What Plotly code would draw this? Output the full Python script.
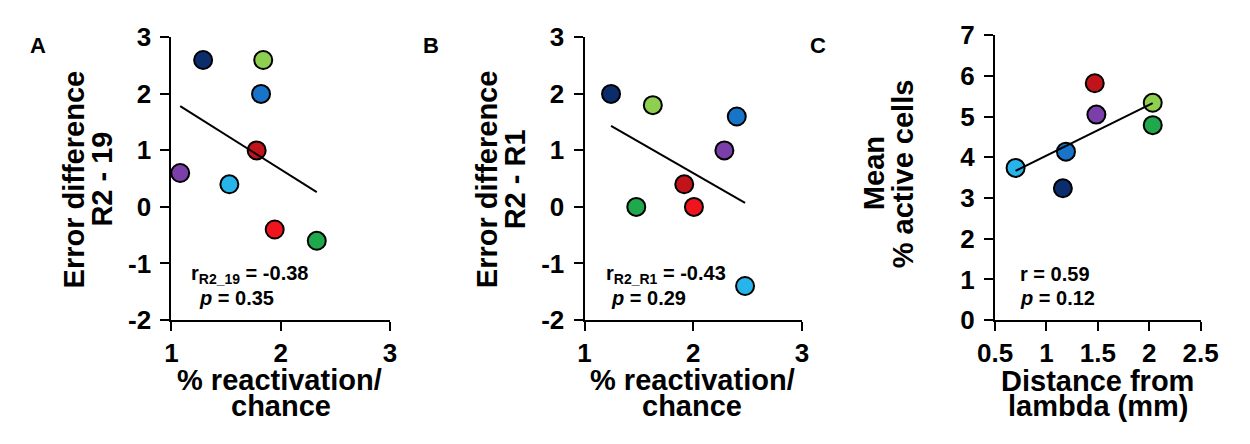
import numpy as np
import plotly.graph_objects as go

W, H = 1250, 444

# ---------------- data ----------------
colors = {
    "navy": "#0b2d6b",
    "lightgreen": "#8fcf50",
    "blue": "#1874c8",
    "darkred": "#c0141a",
    "purple": "#7a3fa8",
    "cyan": "#27b4ea",
    "red": "#f0141e",
    "green": "#1fa84c",
}

a_names = ["navy", "lightgreen", "blue", "darkred", "purple", "cyan", "red", "green"]
a_x = [1.29, 1.84, 1.82, 1.78, 1.08, 1.53, 1.945, 2.33]
a_y = [2.6, 2.6, 2.0, 1.0, 0.6, 0.4, -0.4, -0.6]

b_names = ["navy", "lightgreen", "blue", "purple", "darkred", "red", "green", "cyan"]
b_x = [1.244, 1.628, 2.40, 2.286, 1.917, 2.006, 1.476, 2.476]
b_y = [2.0, 1.8, 1.6, 1.0, 0.4, 0.0, 0.0, -1.4]

c_names = ["cyan", "blue", "navy", "darkred", "purple", "lightgreen", "green"]
c_x = [0.70, 1.19, 1.16, 1.47, 1.486, 2.034, 2.034]
c_y = [3.74, 4.14, 3.24, 5.82, 5.05, 5.34, 4.79]

ab_xticks = [1, 2, 3]
ab_xticktext = ["1", "2", "3"]
ab_yticks = [-2, -1, 0, 1, 2, 3]
ab_yticktext = ["-2", "-1", "0", "1", "2", "3"]
c_xticks = [0.5, 1, 1.5, 2, 2.5]
c_xticktext = ["0.5", "1", "1.5", "2", "2.5"]
c_yticks = [0, 1, 2, 3, 4, 5, 6, 7]
c_yticktext = ["0", "1", "2", "3", "4", "5", "6", "7"]

a_stats = ["r<sub>R2_19</sub> = -0.38", "<i>p</i> = 0.35"]
b_stats = ["r<sub>R2_R1</sub> = -0.43", "<i>p</i> = 0.29"]
c_stats = ["r = 0.59", "<i>p</i> = 0.12"]

FONT = "Liberation Sans, Arial, Helvetica, sans-serif"

fig = go.Figure()


def px_x(p):
    return p / W


def px_y(p):
    return 1 - p / H


panels = [
    ("x", "y", a_x, a_y, a_names),
    ("x2", "y2", b_x, b_y, b_names),
    ("x3", "y3", c_x, c_y, c_names),
]

for xa, ya, xs, ys, names in panels:
    fig.add_trace(go.Scatter(
        x=xs, y=ys, mode="markers", xaxis=xa, yaxis=ya, cliponaxis=False,
        marker=dict(size=18, color=[colors[n] for n in names],
                    line=dict(color="black", width=2)),
        showlegend=False, hoverinfo="skip"))
    k, b = np.polyfit(xs, ys, 1)
    lx = np.array([min(xs), max(xs)])
    fig.add_trace(go.Scatter(
        x=lx, y=k * lx + b, mode="lines", xaxis=xa, yaxis=ya, cliponaxis=False,
        line=dict(color="black", width=2), showlegend=False, hoverinfo="skip"))

axis_common = dict(showgrid=False, zeroline=False, showline=True, linecolor="black",
                   linewidth=2, ticks="outside", ticklen=9, tickwidth=2, tickcolor="black",
                   tickmode="array",
                   tickfont=dict(family=FONT, size=26, color="black", weight="bold"))
y_extra = dict(ticklabelstandoff=4)

fig.update_layout(
    width=W, height=H, margin=dict(l=0, r=0, t=0, b=0),
    paper_bgcolor="white", plot_bgcolor="white",
    xaxis=dict(domain=[px_x(158), px_x(383)], range=[1, 3], tickvals=ab_xticks,
               ticktext=ab_xticktext, anchor="y", **axis_common),
    yaxis=dict(domain=[px_y(327), px_y(24)], range=[-2, 3], tickvals=ab_yticks,
               ticktext=ab_yticktext, anchor="x", **axis_common, **y_extra),
    xaxis2=dict(domain=[px_x(583.3), px_x(807.3)], range=[1, 3], tickvals=ab_xticks,
                ticktext=ab_xticktext, anchor="y2", **axis_common),
    yaxis2=dict(domain=[px_y(327), px_y(24)], range=[-2, 3], tickvals=ab_yticks,
                ticktext=ab_yticktext, anchor="x2", **axis_common, **y_extra),
    xaxis3=dict(domain=[px_x(1006), px_x(1217.7)], range=[0.5, 2.5], tickvals=c_xticks,
                ticktext=c_xticktext, anchor="y3", **axis_common),
    yaxis3=dict(domain=[px_y(327.3), px_y(21.7)], range=[0, 7], tickvals=c_yticks,
                ticktext=c_yticktext, anchor="x3", **axis_common, **y_extra),
)


def ann(text, x, y, size, angle=0, xanchor="center", yanchor="middle"):
    fig.add_annotation(text=text, x=px_x(x), y=px_y(y), xref="paper", yref="paper",
                       showarrow=False, textangle=angle, xanchor=xanchor, yanchor=yanchor,
                       font=dict(family=FONT, size=size, color="black", weight="bold"))


# panel letters
ann("A", 21, 33, 22)
ann("B", 425, 33, 22)
ann("C", 824, 33, 22)

# x titles
ann("% reactivation/", 269, 391, 29)
ann("chance", 271, 419, 29)
ann("% reactivation/", 695, 391, 29)
ann("chance", 694, 419, 29)
ann("Distance from", 1111, 392, 29)
ann("lambda (mm)", 1112, 419, 29)

# y titles
ann("Error difference", 58, 176, 29, angle=-90)
ann("R2 - 19", 87, 176, 29, angle=-90)
ann("Error difference", 483, 176, 29, angle=-90)
ann("R2 - R1", 512, 176, 29, angle=-90)
ann("Mean", 881, 170, 29, angle=-90)
ann("% active cells", 911, 170, 29, angle=-90)

# stats
ann(a_stats[0], 176, 278, 20, xanchor="left")
ann(a_stats[1], 184, 304, 20, xanchor="left")
ann(b_stats[0], 603, 278, 20, xanchor="left")
ann(b_stats[1], 609, 304, 20, xanchor="left")
ann(c_stats[0], 1030, 278, 20, xanchor="left")
ann(c_stats[1], 1030, 304, 20, xanchor="left")

post = (
    "document.documentElement.style.margin='0';"
    "document.documentElement.style.overflow='hidden';"
    "document.body.style.margin='0';"
    "document.body.style.overflow='hidden';"
    "var d=document.getElementById('{plot_id}');"
    "d.style.position='fixed';d.style.left='0px';d.style.top='0px';"
)

fig.write_html("out.html", config={"displayModeBar": False}, post_script=post)
